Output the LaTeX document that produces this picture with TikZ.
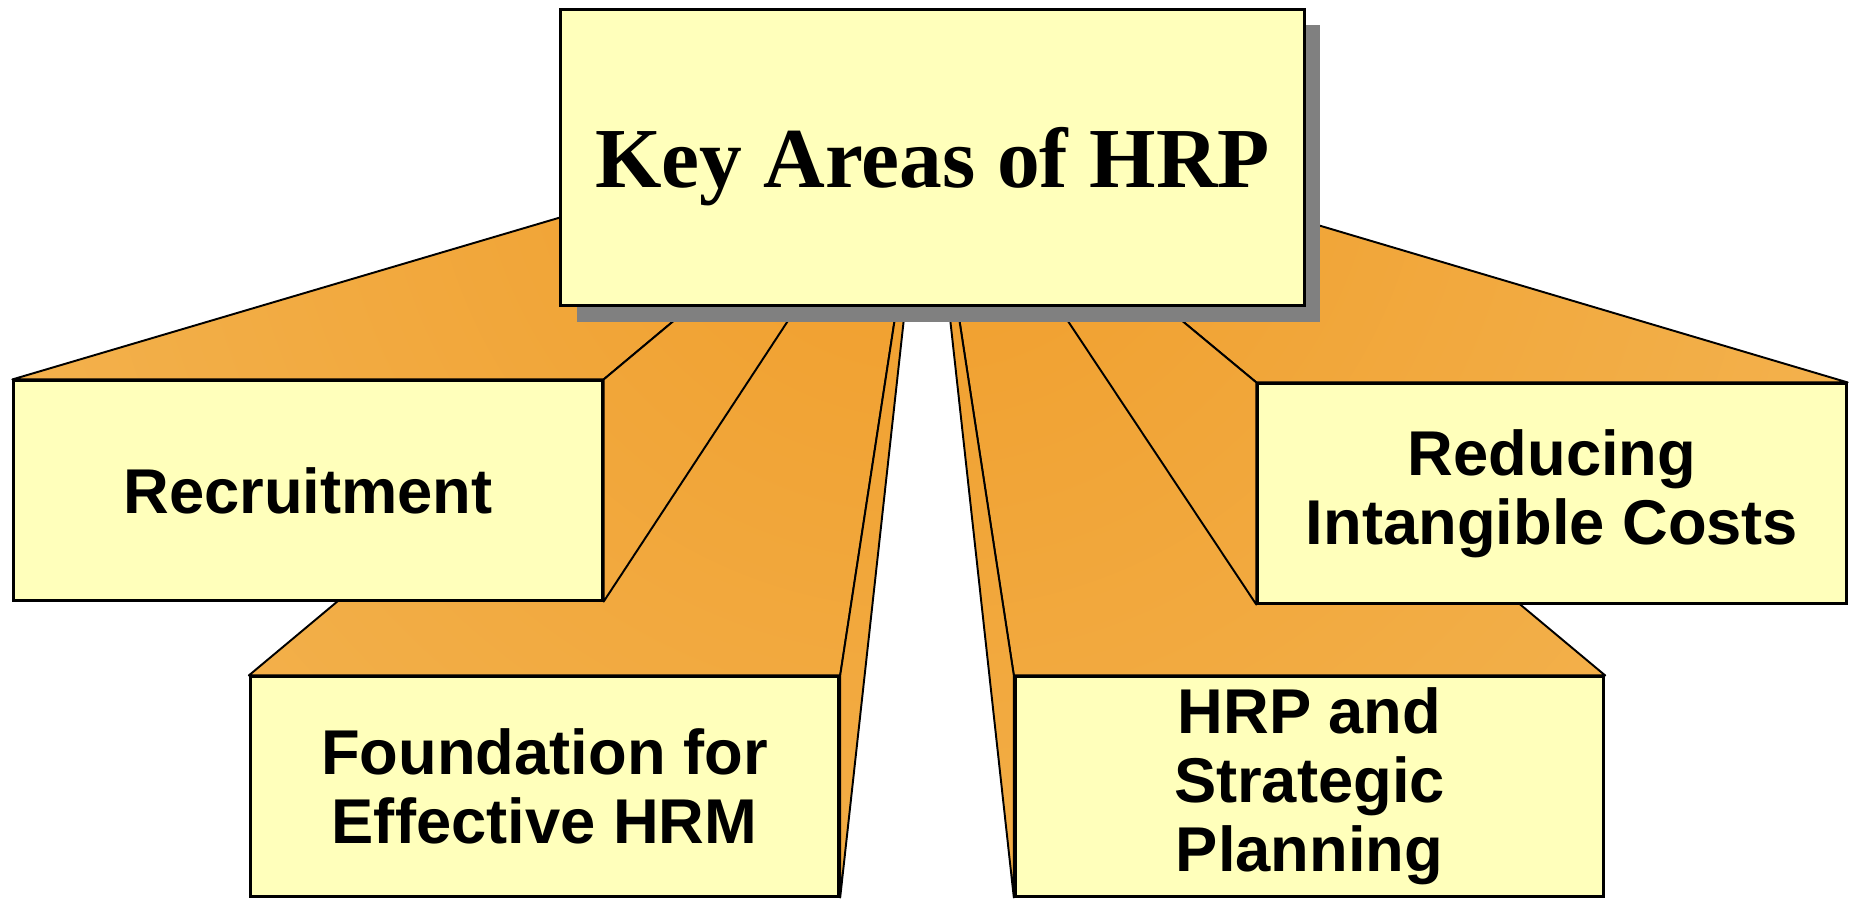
\documentclass[tikz,border=0pt]{standalone}
\usepackage{fontspec}
\setmainfont{Liberation Serif}
\newfontfamily\areafont{Liberation Sans}
\usepackage{tikz}
\usetikzlibrary{calc,backgrounds,shadows}

\definecolor{boxyellow}{HTML}{FFFFBB}
\definecolor{orangedeep}{RGB}{240,157,42}
\definecolor{orangepale}{RGB}{243,178,78}
\definecolor{shadowgray}{HTML}{808080}

\tikzset{
  areabox/.style={draw, line width=.85pt, fill=boxyellow, inner sep=0pt,
    minimum width=5.88cm, minimum height=2.19cm, align=center,
    font=\areafont\bfseries\fontsize{18}{19.6}\selectfont},
  titlebox/.style={draw, line width=.85pt, fill=boxyellow, inner sep=0pt,
    minimum width=7.43cm, minimum height=2.96cm, text depth=0pt,
    font=\bfseries\fontsize{24.3}{29}\selectfont,
    drop shadow={shadow xshift=.16cm, shadow yshift=-.16cm,
      fill=shadowgray, opacity=1}},
  face/.style={draw, line width=.55pt, line join=round,
    path picture={\shade[inner color=orangedeep, outer color=orangepale]
      (vp) circle (10cm);}}
}

\begin{document}
\begin{tikzpicture}[x=0.01cm, y=-0.01cm]
    \def \extrude {0.85} % how far the boxes run back to the vanishing point
    \useasboundingbox (0,0) rectangle (1857,903);
    \coordinate (vp) at (927,109);

    % front faces
    \node[areabox] (rec) at (308,490.5) {Recruitment};
    \node[areabox] (fnd) at (544.5,786.5) {Foundation for\\Effective HRM};
    \node[areabox] (hrp) at (1309.5,786.5) {HRP and\\Strategic\\Planning};
    \node[areabox] (red) at (1552,493.5) {Reducing\\Intangible Costs};

    % top and side faces, back boxes first
    \begin{pgfonlayer}{background}
    \foreach \area/\side in {fnd/east, hrp/west, rec/east, red/west}
    {
      \path[face] (\area.north west) -- (\area.north east)
        -- ($(\area.north east)!\extrude!(vp)$)
        -- ($(\area.north west)!\extrude!(vp)$) -- cycle;
      \path[face] (\area.north \side) -- (\area.south \side)
        -- ($(\area.south \side)!\extrude!(vp)$)
        -- ($(\area.north \side)!\extrude!(vp)$) -- cycle;
    }
    \end{pgfonlayer}

    \node[titlebox] (key) at (932.7,157.5) {Key Areas of HRP};
\end{tikzpicture}
\end{document}
